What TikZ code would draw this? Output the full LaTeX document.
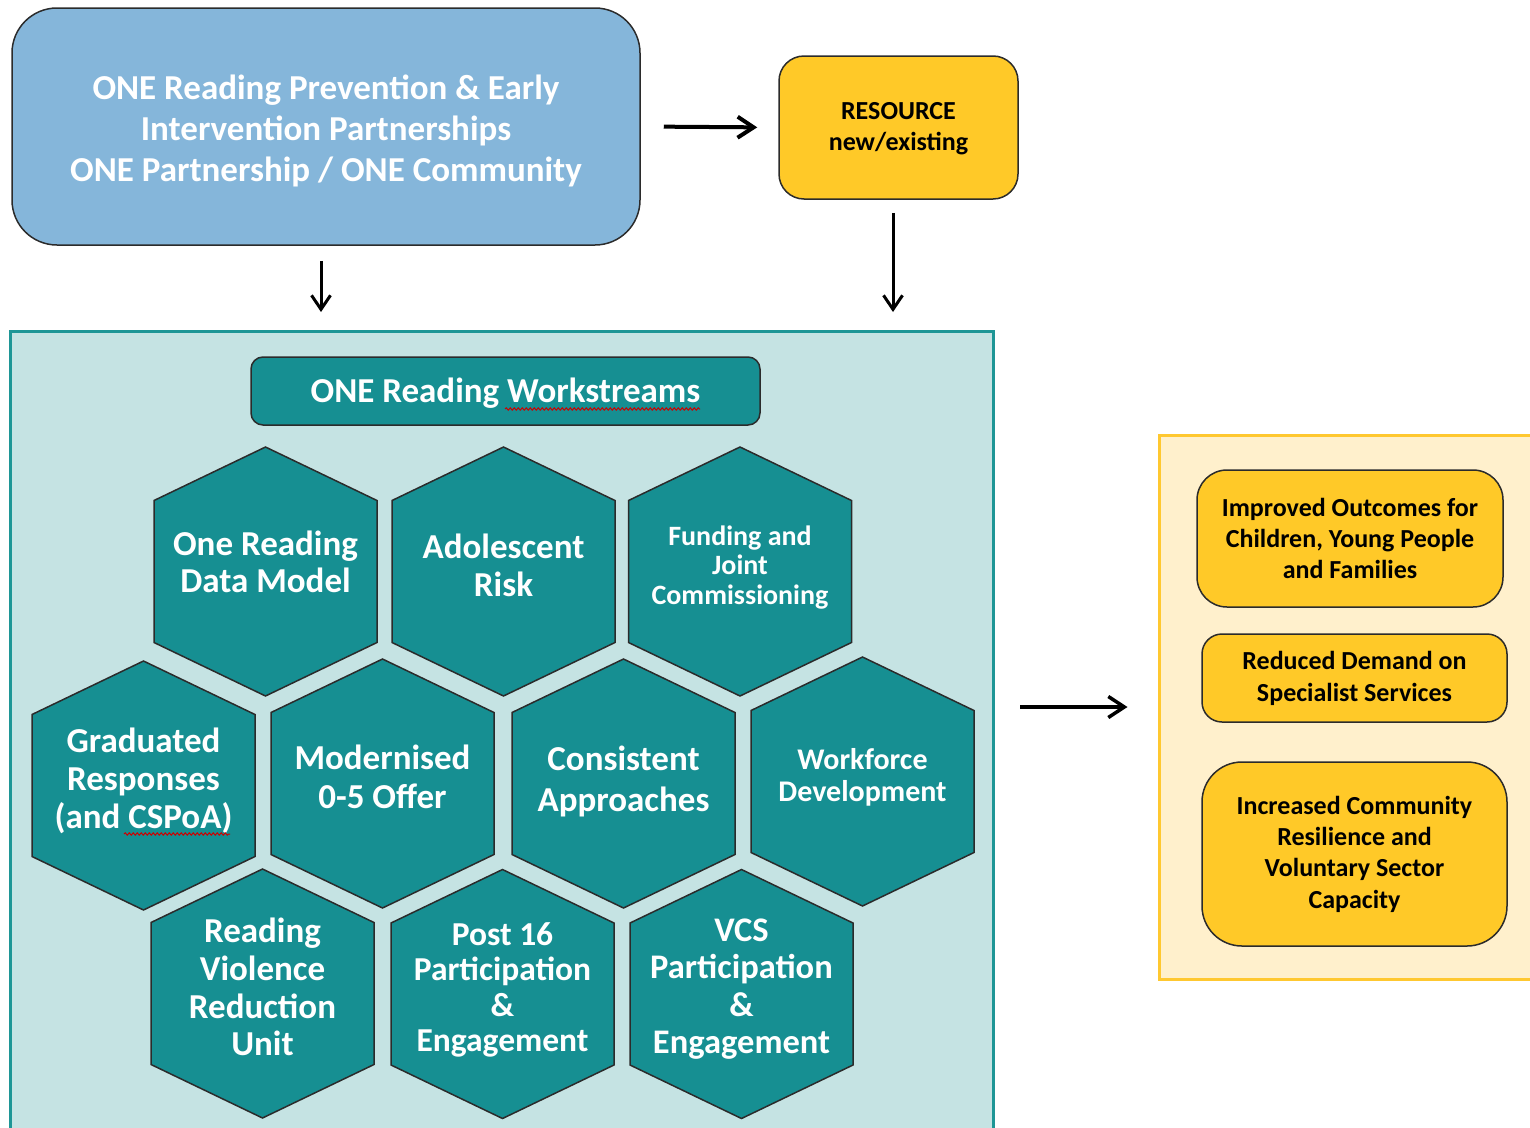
\documentclass[tikz,border=0pt]{standalone}
\usepackage{fontspec}
\setmainfont{Carlito}
\usetikzlibrary{arrows.meta,decorations.pathmorphing}

\definecolor{skyblue}{HTML}{85B6DA}
\definecolor{gold}{HTML}{FFC928}
\definecolor{paleteal}{HTML}{C5E3E3}
\definecolor{tealborder}{HTML}{1E9696}
\definecolor{tealhex}{HTML}{168F92}
\definecolor{cream}{HTML}{FFF0CC}
\definecolor{goldborder}{HTML}{FFC830}
\definecolor{edge}{HTML}{2B2B2B}

\newcommand{\fs}[2]{\fontsize{#1}{#2}\selectfont\bfseries}
% hexagon around centre (x,y)
\newcommand{\hexa}[2]{\draw[hexcell] (#1,#2) +(0,-124.5) -- +(111.5,-71) -- +(111.5,71) -- +(0,124.5) -- +(-111.5,71) -- +(-111.5,-71) -- cycle;}

\begin{document}
\begin{tikzpicture}[x=1pt,y=-1pt,
    box/.style={draw=edge,line width=1.5pt,align=center,inner sep=0pt},
    hexcell/.style={fill=tealhex,draw=edge,line width=1.5pt},
    hextext/.style={text=white,align=center,inner sep=0pt},
    thinarrow/.style={-{Straight Barb[length=14pt,width=19pt]},line width=3pt},
    thickarrow/.style={-{Straight Barb[length=16pt,width=21pt]},line width=4pt},
    squiggle/.style={red!80!black,line width=1pt,decorate,decoration={snake,segment length=4pt,amplitude=1.2pt}}]

    \useasboundingbox (0,0) rectangle (1530,1127);

    %partnership and resource
    \node[box,fill=skyblue,rounded corners=45pt,minimum width=628pt,minimum height=237pt,text=white,font=\fs{35}{41}] (partner) at (326,126.5)
        {\raisebox{-6pt}[\height][\depth]{\begin{tabular}{@{}c@{}}ONE Reading Prevention \& Early\\Intervention Partnerships\\ONE Partnership / ONE Community\end{tabular}}};
    \node[box,fill=gold,rounded corners=25pt,minimum width=239pt,minimum height=143pt,font=\fs{26}{31}] (resource) at (898.5,127.5)
        {\raisebox{-1pt}[\height][\depth]{\begin{tabular}{@{}c@{}}RESOURCE\\new/existing\end{tabular}}};

    %workstreams panel
    \node[draw=tealborder,fill=paleteal,line width=3pt,minimum width=983pt,minimum height=810pt,anchor=north west,inner sep=0pt] (streams) at (9,330) {};
    \node[box,fill=tealhex,rounded corners=12pt,minimum width=509pt,minimum height=68pt,text=white,font=\fs{35}{41}] (title) at (505.5,391)
        {\raisebox{-2pt}[\height][\depth]{ONE Reading Workstreams}};
    \draw[squiggle] (505,409) -- (700,409);%spelling mark

    %row 1
    \hexa{265.5}{571.5}
    \hexa{503.5}{571.5}
    \hexa{740}{571.5}
    %row 2
    \hexa{143.5}{785.5}
    \hexa{382.5}{783.5}
    \hexa{623.5}{783.5}
    \hexa{862.5}{781.5}
    %row 3
    \hexa{262.5}{993.5}
    \hexa{502.5}{994}
    \hexa{741.5}{994}

    \node[hextext,font=\fs{35}{37}] (datamodel) at (265.5,562) {One Reading\\Data Model};
    \node[hextext,font=\fs{35}{38}] (adolescent) at (503.5,565) {Adolescent\\Risk};
    \node[hextext,font=\fs{28}{29.5}] (funding) at (740,567.5) {Funding and\\Joint\\Commissioning};
    \node[hextext,font=\fs{35}{38}] (graduated) at (143.5,780.5) {Graduated\\Responses\\(and CSPoA)};
    \draw[squiggle] (124,834) -- (230,834);%spelling mark
    \node[hextext,font=\fs{35}{39}] (modernised) at (382.5,777) {Modernised\\0-5 Offer};
    \node[hextext,font=\fs{35}{41}] (consistent) at (623.5,781.5) {Consistent\\Approaches};
    \node[hextext,font=\fs{30}{32}] (workforce) at (862.5,777) {Workforce\\Development};
    \node[hextext,font=\fs{35}{37.7}] (violence) at (262.5,987) {Reading\\Violence\\Reduction\\Unit};
    \node[hextext,font=\fs{33.5}{35.5}] (post16) at (502.5,990) {Post 16\\Participation\\\&\\Engagement};
    \node[hextext,font=\fs{34.5}{37.3}] (vcs) at (741.5,989) {VCS\\Participation\\\&\\Engagement};

    %outcomes
    \node[draw=goldborder,fill=cream,line width=3pt,minimum width=386pt,minimum height=544pt,inner sep=0pt] (outcomes) at (1352,707) {};
    \node[box,fill=gold,rounded corners=30pt,minimum width=306pt,minimum height=137pt,font=\fs{26}{31}] (improved) at (1350,538.5)
        {Improved Outcomes for\\Children, Young People\\and Families};
    \node[box,fill=gold,rounded corners=20pt,minimum width=305pt,minimum height=88pt,font=\fs{26}{32}] (reduced) at (1354.5,678)
        {Reduced Demand on\\Specialist Services};
    \node[box,fill=gold,rounded corners=40pt,minimum width=305pt,minimum height=184pt,font=\fs{26}{31.3}] (increased) at (1354.5,854)
        {Increased Community\\Resilience and\\Voluntary Sector\\Capacity};

    %arrows
    \draw[thickarrow,shorten <=23pt,shorten >=21pt] (partner.east) -- (resource.west);
    \draw[thinarrow,shorten <=15pt,shorten >=18pt] ([xshift=-5pt]partner.south) -- ([xshift=-5pt]streams.north -| partner.south);
    \draw[thinarrow,shorten <=13pt,shorten >=18pt] ([xshift=-5.5pt]resource.south) -- ([xshift=-5.5pt]streams.north -| resource.south);
    \draw[thickarrow,line width=3.5pt,shorten <=25pt,shorten >=30pt] (outcomes.west -| streams.east) -- (outcomes.west);

\end{tikzpicture}
\end{document}
